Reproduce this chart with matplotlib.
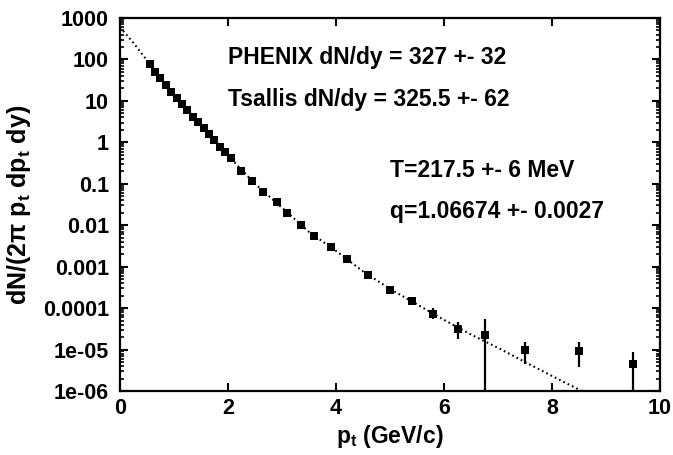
import matplotlib
matplotlib.use("Agg")
import matplotlib.pyplot as plt
from matplotlib.ticker import LogLocator, FixedLocator, NullFormatter
import numpy as np

# ---- data ----
pt = [0.55, 0.65, 0.75, 0.85, 0.95, 1.05, 1.15, 1.25, 1.35, 1.45, 1.55, 1.65,
      1.75, 1.85, 1.95, 2.05, 2.25, 2.45, 2.65, 2.9, 3.1, 3.35, 3.6, 3.9, 4.2,
      4.6, 5.0, 5.4, 5.8, 6.25, 6.75, 7.5, 8.5, 9.5]
yld = [76, 50, 35, 24, 16.6, 11.9, 8.4, 6.0, 4.1, 3.1, 2.2, 1.6,
       1.13, 0.78, 0.57, 0.41, 0.20, 0.116, 0.063, 0.036, 0.0196, 0.010, 0.0054, 0.0030, 0.0015,
       6.2e-4, 2.8e-4, 1.45e-4, 7.4e-5, 3.2e-5, 2.2e-5, 1.0e-5, 9.2e-6, 4.4e-6]
# lower / upper ends of the error bars (values)
y_lo = [76, 50, 35, 24, 16.6, 11.9, 8.4, 6.0, 4.1, 3.1, 2.2, 1.6,
        1.13, 0.78, 0.57, 0.41, 0.20, 0.116, 0.063, 0.036, 0.0196, 0.010, 0.0054, 0.0030, 0.0015,
        6.0e-4, 2.6e-4, 1.3e-4, 5.6e-5, 1.8e-5, 1e-8, 4.4e-6, 3.8e-6, 1e-8]
y_hi = [76, 50, 35, 24, 16.6, 11.9, 8.4, 6.0, 4.1, 3.1, 2.2, 1.6,
        1.13, 0.78, 0.57, 0.41, 0.20, 0.116, 0.063, 0.036, 0.0196, 0.010, 0.0054, 0.0030, 0.0015,
        6.4e-4, 3.0e-4, 1.6e-4, 9.8e-5, 4.6e-5, 5.4e-5, 1.5e-5, 1.5e-5, 8.7e-6]

# Tsallis fit curve
fit_x = [0.0, 0.25, 0.5, 1.0, 1.5, 2.0, 2.5, 3.0, 3.5, 4.0, 4.5, 5.0, 5.5, 6.0,
         6.5, 7.0, 7.5, 8.0, 8.55]
fit_y = [600, 250, 95, 14, 2.6, 0.48, 0.10, 0.0265, 0.0069, 0.0024, 7.7e-4, 2.9e-4,
         1.23e-4, 5.2e-5, 2.3e-5, 1.1e-5, 5.0e-6, 2.3e-6, 1.0e-6]

ytick_vals = [1e-6, 1e-5, 1e-4, 1e-3, 1e-2, 0.1, 1, 10, 100, 1000]
ytick_labels = ["1e-06", "1e-05", "0.0001", "0.001", "0.01", "0.1", "1", "10", "100", "1000"]
xtick_vals = [0, 2, 4, 6, 8, 10]

annotations = [
    (2.0, 114, "PHENIX dN/dy = 327 +- 32"),
    (2.0, 11, "Tsallis dN/dy = 325.5 +- 62"),
    (5.0, 0.21, "T=217.5 +- 6 MeV"),
    (5.0, 0.022, "q=1.06674 +- 0.0027"),
]

# ---- style ----
plt.rcParams['font.family'] = ['Liberation Sans', 'DejaVu Sans']
plt.rcParams['font.weight'] = 'bold'
plt.rcParams['mathtext.fontset'] = 'custom'
plt.rcParams['mathtext.rm'] = 'Liberation Sans:bold'
plt.rcParams['mathtext.bf'] = 'Liberation Sans:bold'
plt.rcParams['mathtext.it'] = 'Liberation Sans:bold'

fig = plt.figure(figsize=(6.73, 4.55), dpi=100)
ax = fig.add_axes([0.1783, 0.1407, 0.8024, 0.8197])

ax.plot(fit_x, fit_y, color='black', lw=1.5, linestyle=(0, (0.8, 1.5)),
        dash_capstyle='butt', zorder=2)

pt_a = np.array(pt)
y_a = np.array(yld)
err = np.vstack([y_a - np.array(y_lo), np.array(y_hi) - y_a])
ax.errorbar(pt_a, y_a, yerr=err, fmt='s', color='black', ms=6.2, mew=0,
            elinewidth=1.6, capsize=2.6, capthick=1.6, zorder=3)

ax.set_yscale('log')
ax.set_xlim(0, 10)
ax.set_ylim(1e-6, 1000)

ax.yaxis.set_major_locator(FixedLocator(ytick_vals))
ax.set_yticks(ytick_vals)
ax.set_yticklabels(ytick_labels)
ax.yaxis.set_minor_locator(LogLocator(base=10, subs=np.arange(2, 10), numticks=20))
ax.yaxis.set_minor_formatter(NullFormatter())
ax.set_xticks(xtick_vals)
ax.set_xticklabels([str(v) for v in xtick_vals])

ax.tick_params(axis='both', which='major', direction='in', length=6, width=1.5,
               top=True, right=True, labelsize=15.5)
ax.tick_params(axis='y', which='major', pad=8)
ax.tick_params(axis='x', which='major', pad=5)
ax.tick_params(axis='y', which='minor', direction='in', length=3, width=1.2,
               right=True, left=True)
for s in ax.spines.values():
    s.set_linewidth(1.6)

for x, y, t in annotations:
    ax.text(x, y, t, fontsize=16.5, fontweight='bold', ha='left', va='center')

ax.set_xlabel(r"$\mathbf{p_t}$ (GeV/c)", fontsize=16.5, fontweight='bold', labelpad=3)
ax.set_ylabel(r"dN/(2$\mathbf{\pi}$ $\mathbf{p_t}$ d$\mathbf{p_t}$ dy)", fontsize=18,
              fontweight='bold', labelpad=7)

fig.savefig("out.png", dpi=100)
